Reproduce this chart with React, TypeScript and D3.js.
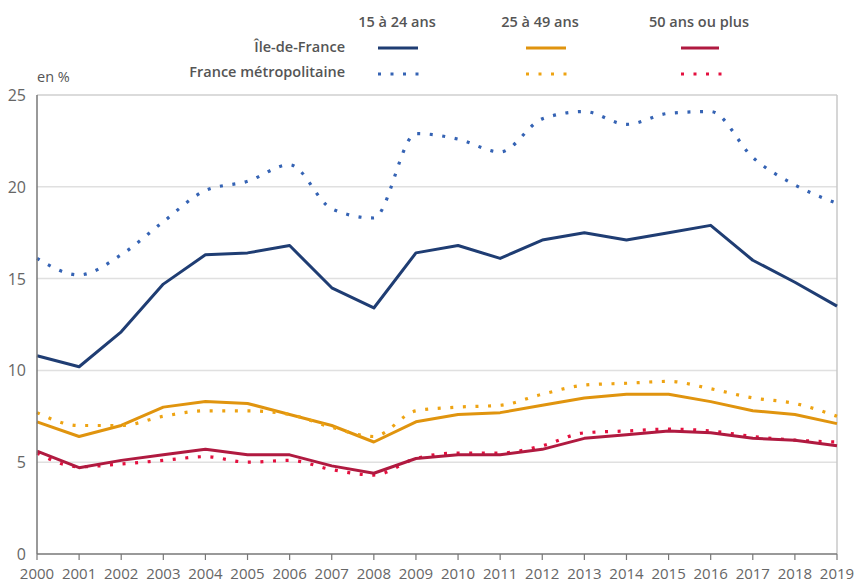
import React from 'react'
import * as d3 from 'd3'

const years = d3.range(2000, 2020)

const idf1524 = [10.8, 10.2, 12.1, 14.7, 16.3, 16.4, 16.8, 14.5, 13.4, 16.4, 16.8, 16.1, 17.1, 17.5, 17.1, 17.5, 17.9, 16.0, 14.8, 13.5]
const fr1524 = [16.1, 15.2, 16.3, 18.1, 19.8, 20.3, 21.2, 18.8, 18.3, 22.9, 22.6, 21.9, 23.7, 24.1, 23.4, 24.0, 24.1, 21.6, 20.1, 19.1]
const idf2549 = [7.2, 6.4, 7.0, 8.0, 8.3, 8.2, 7.6, 7.0, 6.1, 7.2, 7.6, 7.7, 8.1, 8.5, 8.7, 8.7, 8.3, 7.8, 7.6, 7.1]
const fr2549 = [7.7, 7.0, 7.0, 7.5, 7.8, 7.8, 7.6, 6.9, 6.4, 7.8, 8.0, 8.1, 8.7, 9.2, 9.3, 9.4, 9.0, 8.5, 8.2, 7.5]
const idf50 = [5.6, 4.7, 5.1, 5.4, 5.7, 5.4, 5.4, 4.8, 4.4, 5.2, 5.4, 5.4, 5.7, 6.3, 6.5, 6.7, 6.6, 6.3, 6.2, 5.9]
const fr50 = [5.5, 4.75, 4.9, 5.1, 5.3, 5.0, 5.1, 4.6, 4.3, 5.2, 5.5, 5.5, 5.9, 6.6, 6.7, 6.8, 6.7, 6.4, 6.2, 6.1]

const yTicks = [0, 5, 10, 15, 20, 25]
const ageGroups = ['15 à 24 ans', '25 à 49 ans', '50 ans ou plus']
const zones = ['Île-de-France', 'France métropolitaine']

const colors = {
  blue: '#1f3d73', blueDot: '#3563b4',
  orange: '#e0940e', orangeDot: '#eea312',
  red: '#b01a40', redDot: '#e4103f',
}

const series = [
  { values: idf2549, color: colors.orange, dotted: false },
  { values: fr2549, color: colors.orangeDot, dotted: true },
  { values: fr50, color: colors.redDot, dotted: true },
  { values: idf50, color: colors.red, dotted: false },
  { values: fr1524, color: colors.blueDot, dotted: true },
  { values: idf1524, color: colors.blue, dotted: false },
]

const legendCols = [
  { label: ageGroups[0], cx: 397, x0: 378, x1: 418, solid: colors.blue, dot: colors.blueDot },
  { label: ageGroups[1], cx: 540, x0: 526, x1: 566, solid: colors.orange, dot: colors.orangeDot },
  { label: ageGroups[2], cx: 699, x0: 681, x1: 719, solid: colors.red, dot: colors.redDot },
]

const W = 857
const H = 583
const m = { left: 37, right: 20, top: 95, bottom: 29 }
const font = '"Open Sans", sans-serif'

export default function App() {
  const x = d3.scaleLinear().domain([2000, 2019]).range([m.left, W - m.right])
  const y = d3.scaleLinear().domain([0, 25]).range([H - m.bottom, m.top])

  const solidLine = d3.line<number>().x((_, i) => x(years[i])).y(d => y(d))
  const smoothLine = d3.line<number>().x((_, i) => x(years[i])).y(d => y(d)).curve(d3.curveMonotoneX)

  return (
    <svg width={W} height={H} style={{ position: 'absolute', left: 0, top: 0, background: '#fff' }} fontFamily={font}>
      {/* legend */}
      {legendCols.map(c => (
        <g key={c.label}>
          <text x={c.cx} y={27} textAnchor="middle" fontSize={14.5} fontWeight={600} fill="#555">{c.label}</text>
          <line x1={c.x0} x2={c.x1} y1={48} y2={48} stroke={c.solid} strokeWidth={3} />
          <line x1={c.x0} x2={c.x1 + 3} y1={74} y2={74} stroke={c.dot} strokeWidth={3} strokeDasharray="3 9.5" />
        </g>
      ))}
      {zones.map((z, i) => (
        <text key={z} x={345} y={52 + i * 25} textAnchor="end" fontSize={14.5} fontWeight={600} fill="#555">{z}</text>
      ))}
      <text x={37} y={82} fontSize={14.5} fill="#555">en %</text>

      {/* grid */}
      {yTicks.filter(t => t > 0).map(t => (
        <line key={t} x1={m.left} x2={W - m.right} y1={y(t)} y2={y(t)} stroke={t === 25 ? '#cfcfcf' : '#e0e0e0'} strokeWidth={1.5} />
      ))}
      <line x1={W - m.right} x2={W - m.right} y1={y(25)} y2={y(0)} stroke="#c8c8c8" strokeWidth={1.5} />
      {yTicks.map(t => (
        <text key={t} x={m.left - 11} y={y(t) + 6} textAnchor="end" fontSize={16} fill="#666">{t}</text>
      ))}

      {/* series */}
      {series.map((s, i) => (
        <path
          key={i}
          d={(s.dotted ? smoothLine : solidLine)(s.values) || ''}
          fill="none"
          stroke={s.color}
          strokeWidth={s.dotted ? 3.2 : 3}
          strokeDasharray={s.dotted ? '3 9.6' : undefined}
          strokeLinejoin="round"
        />
      ))}

      {/* axes */}
      <line x1={m.left} x2={m.left} y1={y(25)} y2={y(0)} stroke="#777" strokeWidth={1.5} />
      <line x1={m.left} x2={W - m.right} y1={y(0)} y2={y(0)} stroke="#777" strokeWidth={1.5} />
      {years.map(yr => (
        <g key={yr}>
          <line x1={x(yr)} x2={x(yr)} y1={y(0)} y2={y(0) + 6} stroke="#777" strokeWidth={1.2} />
          <text x={x(yr)} y={H - 4} textAnchor="middle" fontSize={15} fill="#666">{yr}</text>
        </g>
      ))}
    </svg>
  )
}
